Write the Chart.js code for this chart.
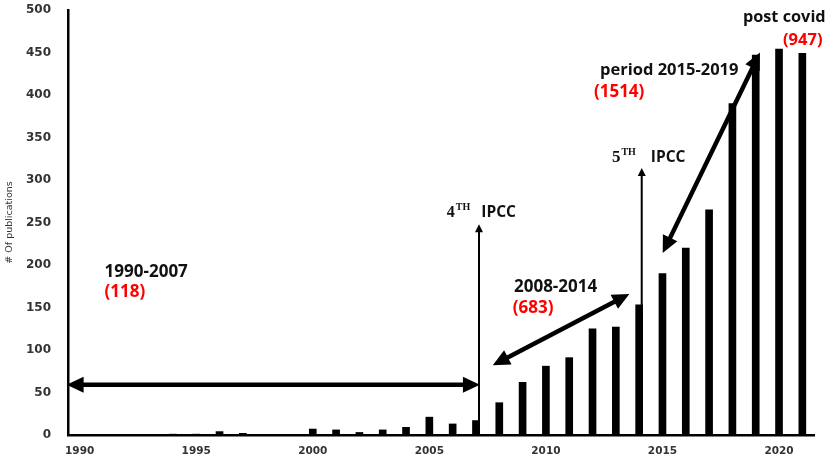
<!DOCTYPE html>
<html>
<head>
<meta charset="utf-8">
<script src="https://cdn.jsdelivr.net/npm/chart.js@4.4.0/dist/chart.umd.min.js"></script>
<style>
  html, body { margin: 0; padding: 0; background: #fff; }
  #wrap { width: 829px; height: 463px; position: relative; }
  .pre { position: absolute; left: -1000px; top: 0; font-weight: bold; }
</style>
</head>
<body>
<span class="pre" style="font-family:'Open Sans'">1990 IPCC</span>
<span class="pre" style="font-family:'Liberation Serif'">4TH</span>
<span class="pre" style="font-family:'DejaVu Sans'">1990</span>
<div id="wrap"><canvas id="c" width="829" height="463"></canvas></div>
<script>
// ---- data ----
const years = [1990,1991,1992,1993,1994,1995,1996,1997,1998,1999,2000,2001,2002,2003,2004,2005,2006,2007,2008,2009,2010,2011,2012,2013,2014,2015,2016,2017,2018,2019,2020,2021];
const publications = [0,0,0,0,1,1,4,2,0,0,7,6,3,6,9,21,13,17,38,62,81,91,125,127,153,190,220,265,390,447,454,449];
const yTicks = [0,50,100,150,200,250,300,350,400,450,500];
const yAxisTitle = '# Of publications';

// annotation arrows in data units [year, value]
const arrowsDouble = [
  { from: [1989.44, 59], to: [2007.17, 59] },      // 1990-2007
  { from: [2007.72, 82], to: [2013.58, 166] },     // 2008-2014
  { from: [2015.01, 214], to: [2019.18, 450] }     // 2015-2019
];
const arrowsSingle = [
  { from: [2007.13, 0], to: [2007.13, 248] },      // 4th IPCC
  { from: [2014.11, 0], to: [2014.11, 314] }       // 5th IPCC
];
// text labels: [year, value] is left end of baseline
const periodLabels = [
  { text: '1990-2007', at: [1991.07, 186], color: '#111', size: 17 },
  { text: '(118)', at: [1991.07, 162], color: '#ff0000', size: 17 },
  { text: '2008-2014', at: [2008.63, 168], color: '#111', size: 17 },
  { text: '(683)', at: [2008.58, 143.5], color: '#ff0000', size: 17 },
  { text: 'period 2015-2019', at: [2012.32, 423.5], color: '#111', size: 16.5 },
  { text: '(1514)', at: [2012.06, 397.6], color: '#ff0000', size: 17 },
  { text: 'post covid', at: [2018.45, 486], color: '#111', size: 16.3 },
  { text: '(947)', at: [2020.17, 459], color: '#ff0000', size: 16.5 }
];
const ipccLabels = [
  { num: '4', sup: 'TH', rest: 'IPCC', at: [2005.75, 256.5], numSize: 16, supSize: 10, gap: 11 },
  { num: '5', sup: 'TH', rest: 'IPCC', at: [2012.83, 321], numSize: 17, supSize: 10, gap: 15 }
];

function drawArrowHead(ctx, tx, ty, ang, len, half) {
  ctx.beginPath();
  ctx.moveTo(tx, ty);
  ctx.lineTo(tx - len*Math.cos(ang) + half*Math.sin(ang), ty - len*Math.sin(ang) - half*Math.cos(ang));
  ctx.lineTo(tx - len*Math.cos(ang) - half*Math.sin(ang), ty - len*Math.sin(ang) + half*Math.cos(ang));
  ctx.closePath();
  ctx.fill();
}
function drawArrow(ctx, x1, y1, x2, y2, o) {
  const ang = Math.atan2(y2 - y1, x2 - x1);
  const c = Math.cos(ang), s = Math.sin(ang);
  let sx = x1, sy = y1, ex = x2, ey = y2;
  if (o.start) { sx += c*o.len*0.8; sy += s*o.len*0.8; }
  if (o.end) { ex -= c*o.len*0.8; ey -= s*o.len*0.8; }
  ctx.save();
  ctx.strokeStyle = '#000'; ctx.fillStyle = '#000';
  ctx.lineWidth = o.width; ctx.lineCap = 'butt';
  ctx.beginPath(); ctx.moveTo(sx, sy); ctx.lineTo(ex, ey); ctx.stroke();
  if (o.end) drawArrowHead(ctx, x2, y2, ang, o.len, o.half);
  if (o.start) drawArrowHead(ctx, x1, y1, ang + Math.PI, o.len, o.half);
  ctx.restore();
}

const annotationPlugin = {
  id: 'annot',
  afterDatasetsDraw(chart) {
    const ctx = chart.ctx;
    const xs = chart.scales.x, ys = chart.scales.y;
    const px = yr => xs.getPixelForValue(yr - years[0]);
    const py = v => ys.getPixelForValue(v);
    arrowsDouble.forEach(a => drawArrow(ctx, px(a.from[0]), py(a.from[1]), px(a.to[0]), py(a.to[1]),
      { width: 4.5, len: 17, half: 8, start: true, end: true }));
    arrowsSingle.forEach(a => drawArrow(ctx, px(a.from[0]), py(a.from[1]), px(a.to[0]), py(a.to[1]),
      { width: 2, len: 8, half: 4, start: false, end: true }));
    ctx.save();
    ctx.textBaseline = 'alphabetic';
    ctx.textAlign = 'left';
    periodLabels.forEach(l => {
      ctx.font = 'bold ' + l.size + 'px "Open Sans", "Liberation Sans", sans-serif';
      ctx.fillStyle = l.color;
      ctx.fillText(l.text, px(l.at[0]), py(l.at[1]));
    });
    ipccLabels.forEach(l => {
      let x = px(l.at[0]); const y = py(l.at[1]);
      ctx.fillStyle = '#111';
      ctx.font = 'bold ' + l.numSize + 'px "Liberation Serif", serif';
      ctx.fillText(l.num, x, y); x += ctx.measureText(l.num).width + 1;
      ctx.font = 'bold ' + l.supSize + 'px "Liberation Serif", serif';
      ctx.fillText(l.sup, x, y - l.numSize*0.45); x += ctx.measureText(l.sup).width + l.gap;
      ctx.font = 'bold 15.5px "Open Sans", "Liberation Sans", sans-serif';
      ctx.fillText(l.rest, x, y);
    });
    ctx.restore();
  }
};

function makeChart() {
  new Chart(document.getElementById('c'), {
    type: 'bar',
    data: {
      labels: years.map(String),
      datasets: [{
        data: publications,
        backgroundColor: '#000',
        borderWidth: 0,
        barThickness: 7
      }]
    },
    options: {
      responsive: false,
      animation: false,
      devicePixelRatio: 1,
      layout: { padding: { top: 10, right: 15, bottom: 0, left: 0 } },
      plugins: { legend: { display: false }, tooltip: { enabled: false } },
      scales: {
        x: {
          grid: { display: false, drawTicks: false },
          border: { display: true, color: '#000', width: 2.5 },
          ticks: {
            autoSkip: false, maxRotation: 0, minRotation: 0, padding: 10,
            color: '#333', font: { family: 'DejaVu Sans', weight: 'bold', size: 10.5 },
            callback: (v, i) => (years[i] % 5 === 0 ? String(years[i]) : '')
          },
          afterFit: s => { s.height = 28; s.paddingLeft = 0; s.paddingRight = 0; }
        },
        y: {
          min: 0, max: 500,
          afterBuildTicks: s => { s.ticks = yTicks.map(v => ({ value: v })); },
          grid: { display: false, drawTicks: false },
          border: { display: true, color: '#000', width: 2.5 },
          ticks: {
            padding: 17, color: '#333',
            font: { family: 'DejaVu Sans', weight: 'bold', size: 12 }
          },
          title: {
            display: true, text: yAxisTitle, color: '#333',
            font: { family: 'DejaVu Sans', size: 9.5 }, padding: { top: 4, bottom: 0 }
          },
          afterFit: s => { s.width = 68; s.paddingTop = 0; s.paddingBottom = 0; }
        }
      }
    },
    plugins: [annotationPlugin]
  });
}

Promise.all([
  document.fonts.load('bold 17px "Open Sans"'),
  document.fonts.load('bold 15px "Open Sans"'),
  document.fonts.load('bold 16px "Liberation Serif"'),
  document.fonts.load('bold 12px "DejaVu Sans"'),
  document.fonts.load('10px "DejaVu Sans"')
]).then(makeChart, makeChart);
</script>
</body>
</html>
